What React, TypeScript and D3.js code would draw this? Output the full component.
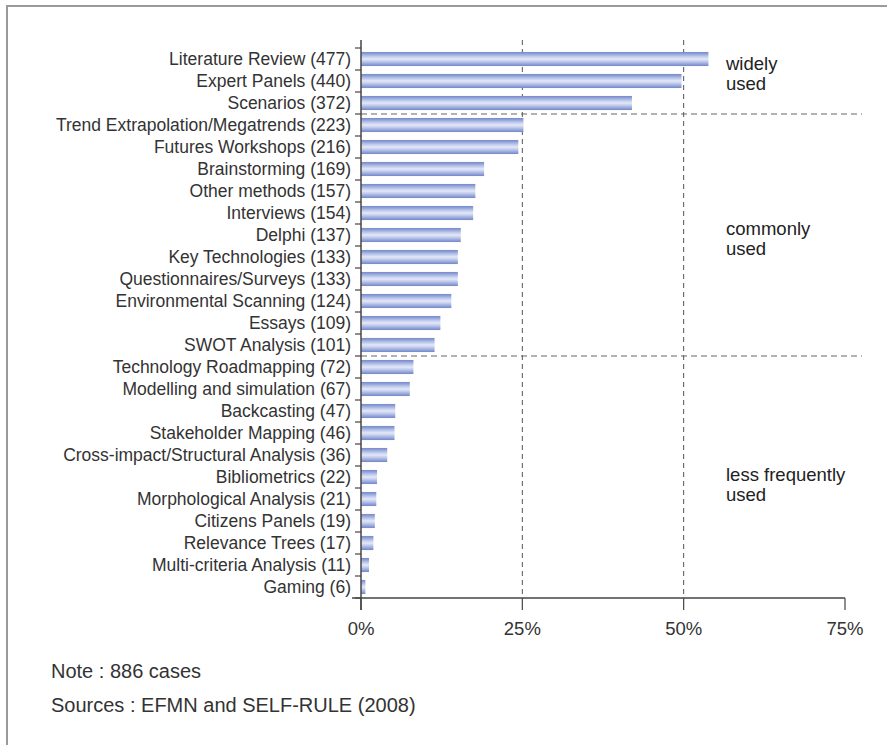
import React, { useEffect, useRef } from "react";
import * as d3 from "d3";

const categories = [
  "Literature Review (477)",
  "Expert Panels (440)",
  "Scenarios (372)",
  "Trend Extrapolation/Megatrends (223)",
  "Futures Workshops (216)",
  "Brainstorming (169)",
  "Other methods (157)",
  "Interviews (154)",
  "Delphi (137)",
  "Key Technologies (133)",
  "Questionnaires/Surveys (133)",
  "Environmental Scanning (124)",
  "Essays (109)",
  "SWOT Analysis (101)",
  "Technology Roadmapping (72)",
  "Modelling and simulation (67)",
  "Backcasting (47)",
  "Stakeholder Mapping (46)",
  "Cross-impact/Structural Analysis (36)",
  "Bibliometrics (22)",
  "Morphological Analysis (21)",
  "Citizens Panels (19)",
  "Relevance Trees (17)",
  "Multi-criteria Analysis (11)",
  "Gaming (6)",
];
const counts = [477, 440, 372, 223, 216, 169, 157, 154, 137, 133, 133, 124, 109, 101, 72, 67, 47, 46, 36, 22, 21, 19, 17, 11, 6];
const totalCases = 886;
const xTicks = [0, 25, 50, 75];
const gridTicks = [25, 50];
const groupBreaks = [3, 14]; // indices where group changes
const groupLabels = [
  { lines: ["widely", "used"], at: 0.4 },
  { lines: ["commonly", "used"], at: 7.9 },
  { lines: ["less frequently", "used"], at: 19.1 },
];
const notes = ["Note : 886 cases", "Sources : EFMN and SELF-RULE (2008)"];

const W = 887;
const H = 745;
const FONT = "'Liberation Sans', Arial, sans-serif";

export default function App() {
  const ref = useRef<SVGSVGElement>(null);

  useEffect(() => {
    const svg = d3.select(ref.current);
    svg.selectAll("*").remove();

    const x = d3.scaleLinear().domain([0, 75]).range([361, 845]);
    const y = d3
      .scaleBand<string>()
      .domain(categories)
      .range([48, 598])
      .paddingInner(0.36)
      .paddingOuter(0.18);
    const step = y.step();

    const defs = svg.append("defs");
    const grad = defs
      .append("linearGradient")
      .attr("id", "barGrad")
      .attr("x1", 0)
      .attr("y1", 0)
      .attr("x2", 0)
      .attr("y2", 1);
    [
      [0, "#7488cc"],
      [0.15, "#95a5da"],
      [0.3, "#b9c5ea"],
      [0.5, "#e4e9f7"],
      [0.7, "#b9c5ea"],
      [0.85, "#95a5da"],
      [1, "#7386ca"],
    ].forEach(([o, c]) => grad.append("stop").attr("offset", o as number).attr("stop-color", c as string));

    // frame
    svg.append("line").attr("x1", 7).attr("x2", W).attr("y1", 6).attr("y2", 6).attr("stroke", "#9a9a9a").attr("stroke-width", 2);
    svg.append("line").attr("x1", 7).attr("x2", 7).attr("y1", 5).attr("y2", H).attr("stroke", "#9a9a9a").attr("stroke-width", 2);

    const top = 40;
    const base = 598;

    // vertical dashed gridlines
    svg
      .selectAll(".grid")
      .data(gridTicks)
      .join("line")
      .attr("x1", (d) => x(d))
      .attr("x2", (d) => x(d))
      .attr("y1", top)
      .attr("y2", base)
      .attr("stroke", "#555")
      .attr("stroke-width", 1)
      .attr("stroke-dasharray", "5,4");

    // bars
    svg
      .selectAll(".bar")
      .data(categories)
      .join("rect")
      .attr("x", x(0))
      .attr("y", (d) => y(d)!)
      .attr("width", (d, i) => x((counts[i] / totalCases) * 100) - x(0))
      .attr("height", y.bandwidth())
      .attr("fill", "url(#barGrad)");

    // group dashed separators
    svg
      .selectAll(".sep")
      .data(groupBreaks)
      .join("line")
      .attr("x1", x(0))
      .attr("x2", 862)
      .attr("y1", (d) => 48 + d * step)
      .attr("y2", (d) => 48 + d * step)
      .attr("stroke", "#666")
      .attr("stroke-width", 1)
      .attr("stroke-dasharray", "6,4");

    // y axis line
    svg.append("line").attr("x1", x(0)).attr("x2", x(0)).attr("y1", top).attr("y2", base + 12).attr("stroke", "#444").attr("stroke-width", 1.5);
    // y ticks at band boundaries
    svg
      .selectAll(".ytick")
      .data(d3.range(categories.length + 1))
      .join("line")
      .attr("x1", x(0) - 6)
      .attr("x2", x(0))
      .attr("y1", (i) => 48 + i * step)
      .attr("y2", (i) => 48 + i * step)
      .attr("stroke", "#444")
      .attr("stroke-width", 1.2);

    // labels
    svg
      .selectAll(".lab")
      .data(categories)
      .join("text")
      .attr("x", 351)
      .attr("y", (d) => y(d)! + y.bandwidth() / 2)
      .attr("dy", "0.36em")
      .attr("text-anchor", "end")
      .attr("font-family", FONT)
      .attr("font-size", 17.5)
      .attr("fill", "#333")
      .text((d) => d);

    // x axis
    svg.append("line").attr("x1", 352).attr("x2", x(75)).attr("y1", base).attr("y2", base).attr("stroke", "#444").attr("stroke-width", 1.5);
    svg
      .selectAll(".xtick")
      .data(xTicks)
      .join("line")
      .attr("x1", (d) => x(d))
      .attr("x2", (d) => x(d))
      .attr("y1", base)
      .attr("y2", base + 12)
      .attr("stroke", "#444")
      .attr("stroke-width", 1.2);
    svg
      .selectAll(".xlab")
      .data(xTicks)
      .join("text")
      .attr("x", (d) => x(d))
      .attr("y", 635)
      .attr("text-anchor", "middle")
      .attr("font-family", FONT)
      .attr("font-size", 18.5)
      .attr("fill", "#333")
      .text((d) => `${d}%`);

    // group annotations
    groupLabels.forEach((g) => {
      const yy = 48 + g.at * step;
      g.lines.forEach((ln, k) => {
        svg
          .append("text")
          .attr("x", 726)
          .attr("y", yy + 13 + k * 20)
          .attr("font-family", FONT)
          .attr("font-size", 18.5)
          .attr("fill", "#222")
          .text(ln);
      });
    });

    // notes
    notes.forEach((n, k) => {
      svg
        .append("text")
        .attr("x", 51)
        .attr("y", 678 + k * 34)
        .attr("font-family", FONT)
        .attr("font-size", 20)
        .attr("fill", "#333")
        .text(n);
    });
  }, []);

  return (
    <svg
      ref={ref}
      width={W}
      height={H}
      style={{ position: "absolute", left: 0, top: 0, background: "#fff" }}
    />
  );
}
